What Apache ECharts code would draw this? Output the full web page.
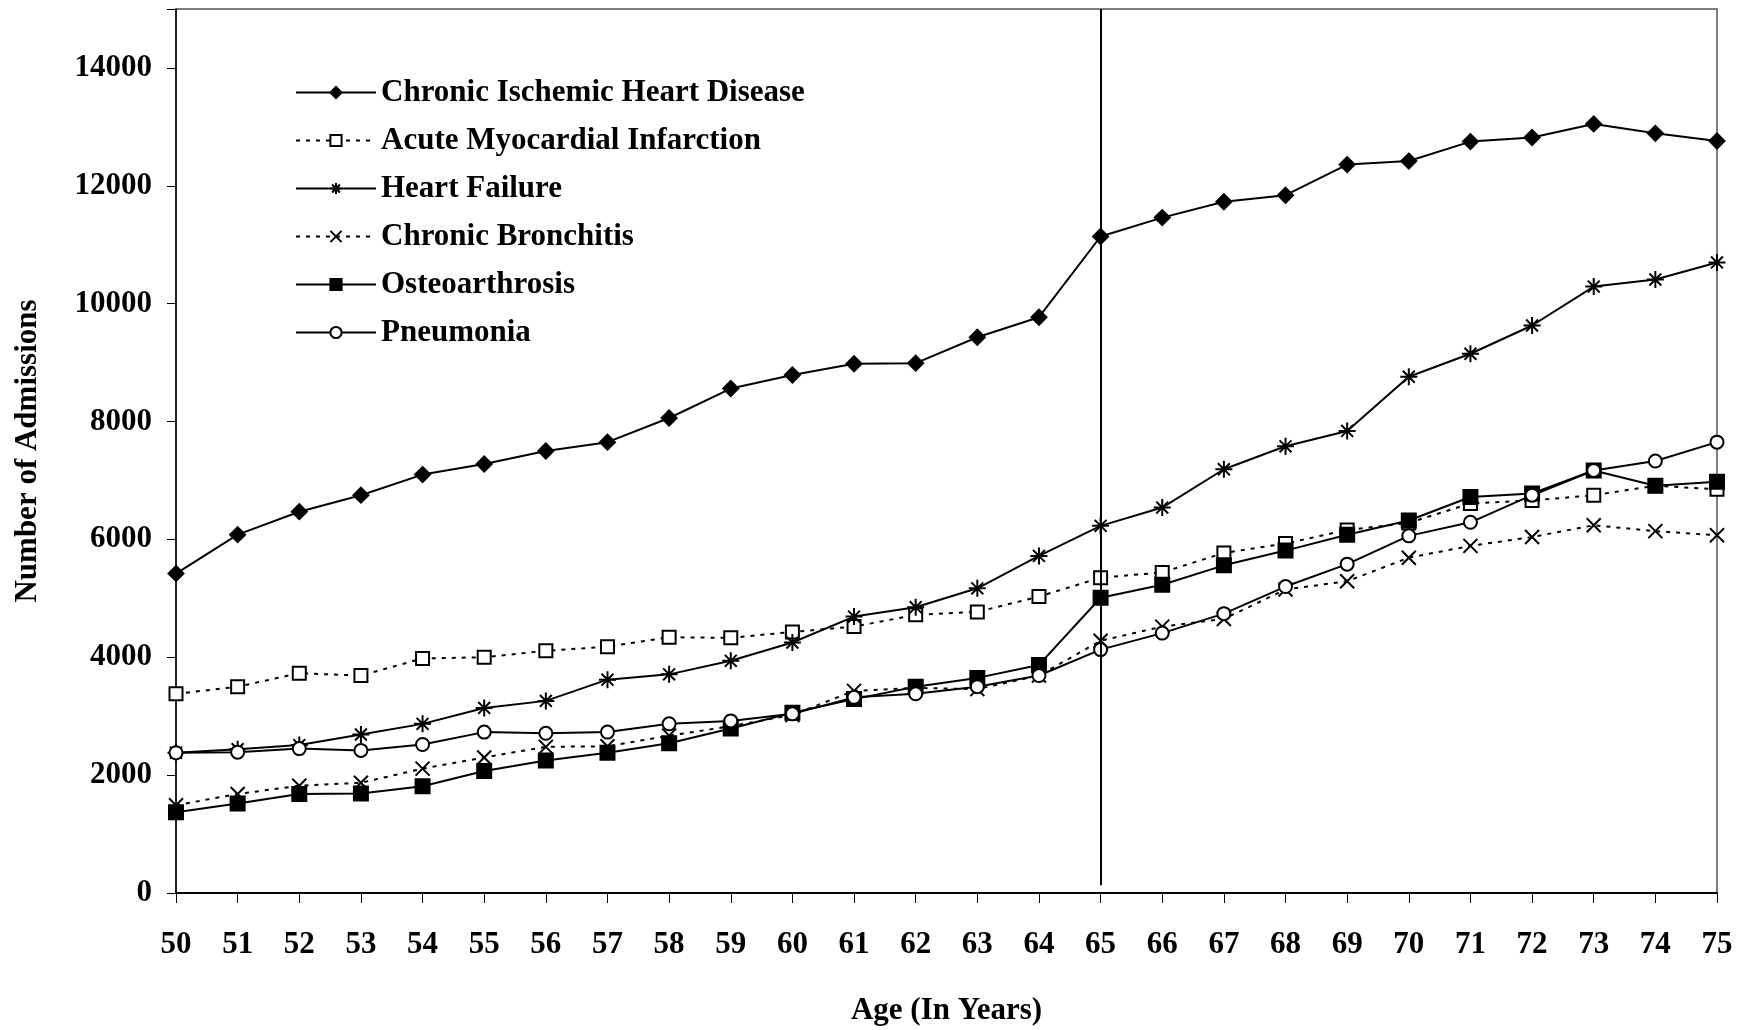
<!DOCTYPE html>
<html><head><meta charset="utf-8">
<script src="https://cdn.jsdelivr.net/npm/echarts@6/dist/echarts.min.js"></script>
<style>html,body{margin:0;background:#fff}#chart{width:1750px;height:1030px}</style>
</head><body><div id="chart"></div>
<script>
const ages = ['50','51','52','53','54','55','56','57','58','59','60','61','62','63','64','65','66','67','68','69','70','71','72','73','74','75'];
const ischemic = [5420,6080,6470,6750,7100,7280,7500,7650,8060,8560,8790,8980,8990,9430,9770,11140,11460,11730,11840,12360,12420,12750,12820,13050,12890,12760];
const infarction = [3380,3500,3730,3690,3980,4000,4110,4180,4340,4330,4430,4520,4720,4770,5030,5350,5440,5770,5930,6160,6280,6610,6660,6750,6910,6850];
const heartFailure = [2380,2440,2510,2690,2870,3140,3260,3620,3710,3940,4250,4690,4850,5170,5720,6230,6540,7190,7580,7840,8760,9150,9630,10290,10410,10700];
const bronchitis = [1490,1680,1820,1870,2110,2300,2480,2490,2670,2830,3020,3430,3480,3460,3690,4280,4520,4650,5150,5290,5690,5890,6040,6240,6140,6070];
const osteo = [1370,1520,1680,1690,1810,2070,2250,2380,2540,2790,3060,3290,3500,3650,3870,5010,5230,5560,5810,6080,6320,6720,6780,7170,6910,6980];
const pneumonia = [2380,2390,2450,2420,2520,2730,2710,2730,2870,2920,3040,3320,3380,3500,3690,4130,4410,4740,5200,5580,6060,6290,6750,7170,7330,7650];

const font = '"Liberation Serif", serif';
const star = 'path://M5,0 L5,10 M0,5 L10,5 M1.5,1.5 L8.5,8.5 M8.5,1.5 L1.5,8.5';
const cross = 'path://M0,0 L10,10 M10,0 L0,10';

function mk(name, data, symbol, opts) {
  return Object.assign({
    name: name, type: 'line', data: data, symbol: symbol, symbolSize: 14,
    lineStyle: { color: '#000', width: 2, type: 'solid' },
    itemStyle: { color: '#000', borderColor: '#000', borderWidth: 2 }
  }, opts || {});
}

const option = {
  animation: false,
  textStyle: { fontFamily: font },
  grid: { left: 176, right: 33, top: 9, bottom: 137, outerBoundsMode: 'none', containLabel: false,
    show: true, borderColor: '#555', borderWidth: 1.5 },
  legend: {
    orient: 'vertical', left: 290, top: 72, itemGap: 17, itemWidth: 80, itemHeight: 14,
    textStyle: { fontFamily: font, fontWeight: 'bold', fontSize: 31, color: '#000' },
    data: ['Chronic Ischemic Heart Disease','Acute Myocardial Infarction','Heart Failure','Chronic Bronchitis','Osteoarthrosis','Pneumonia']
  },
  xAxis: {
    type: 'category', data: ages, boundaryGap: false,
    name: 'Age (In Years)', nameLocation: 'middle', nameGap: 102,
    nameTextStyle: { fontFamily: font, fontWeight: 'bold', fontSize: 31, color: '#000' },
    axisLine: { lineStyle: { color: '#000', width: 2 } },
    axisTick: { alignWithLabel: true, length: 10, lineStyle: { color: '#000' } },
    axisLabel: { fontFamily: font, fontWeight: 'bold', fontSize: 31, color: '#000', margin: 36 },
    splitLine: { show: false }
  },
  yAxis: {
    type: 'value', min: 0, max: 15000, interval: 2000,
    name: 'Number of Admissions', nameLocation: 'middle', nameGap: 133,
    nameTextStyle: { fontFamily: font, fontWeight: 'bold', fontSize: 31, color: '#000' },
    axisLine: { show: true, lineStyle: { color: '#000', width: 1.5 } },
    axisTick: { show: true, inside: false, length: 9, lineStyle: { color: '#000' } },
    axisLabel: { fontFamily: font, fontWeight: 'bold', fontSize: 31, color: '#000', margin: 24,
      formatter: v => v === 15000 ? '' : String(v) },
    splitLine: { show: false }
  },
  series: [
    mk('Chronic Ischemic Heart Disease', ischemic, 'diamond', {
      symbolSize: 15,
      markLine: { silent: true, symbol: 'none', label: { show: false },
        lineStyle: { color: '#000', width: 2, type: 'solid' },
        data: [[{ coord: ['65', 130] }, { coord: ['65', 15000] }]] }
    }),
    mk('Acute Myocardial Infarction', infarction, 'rect', {
      lineStyle: { color: '#000', width: 2, type: [4, 6] },
      itemStyle: { color: '#fff', borderColor: '#000', borderWidth: 2 }, symbolSize: 13
    }),
    mk('Heart Failure', heartFailure, star, { symbolSize: 17 }),
    mk('Chronic Bronchitis', bronchitis, cross, {
      lineStyle: { color: '#000', width: 2, type: [4, 6] }, symbolSize: 14
    }),
    mk('Osteoarthrosis', osteo, 'rect', { symbolSize: 14 }),
    mk('Pneumonia', pneumonia, 'circle', {
      symbolSize: 13,
      itemStyle: { color: '#fff', borderColor: '#000', borderWidth: 2 }
    })
  ]
};

const chart = echarts.init(document.getElementById('chart'));
chart.setOption(option);
</script></body></html>
